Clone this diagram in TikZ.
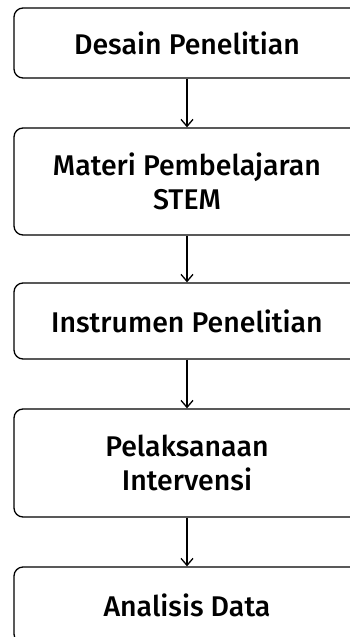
\documentclass[tikz,border=0pt]{standalone}
\usepackage{fontspec}
\setmainfont{Fira Sans}[BoldFont={Fira Sans Medium}]
\usetikzlibrary{arrows.meta}

\tikzset{
	stage/.style={draw, line width=1.3pt, rounded corners=9pt, minimum width=346pt,
		inner sep=0pt, align=center, font=\bfseries\fontsize{28.5}{34}\selectfont},
	flow/.style={line width=1.3pt, -{Straight Barb[length=7pt,width=12pt,line width=1.3pt]}}
}

\begin{document}
\begin{tikzpicture}
		\useasboundingbox (0,0) rectangle (350pt,-637pt);
		\clip (0,0) rectangle (350pt,-637pt);
		
		\node[stage, minimum height=70pt] (desain) at (187pt,-43pt) {Desain Penelitian};
		\node[stage, minimum height=107pt] (materi) at (187pt,-181.5pt) {Materi Pembelajaran\\STEM};
		\node[stage, minimum height=76pt] (instrumen) at (187pt,-321pt) {Instrumen Penelitian};
		\node[stage, minimum height=108pt] (pelaksanaan) at (187pt,-463pt) {Pelaksanaan\\Intervensi};
		\node[stage, minimum height=76pt] (analisis) at (187pt,-605pt) {Analisis Data};
		
		\draw[flow] (desain) -- (materi);
		\draw[flow] (materi) -- (instrumen);
		\draw[flow] (instrumen) -- (pelaksanaan);
		\draw[flow] (pelaksanaan) -- (analisis);
	\end{tikzpicture}
\end{document}
